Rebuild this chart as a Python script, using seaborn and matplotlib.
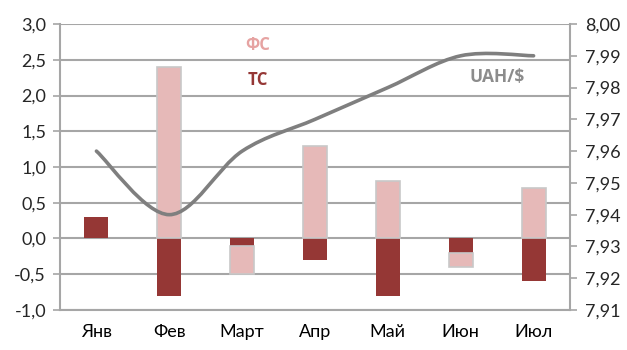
import matplotlib
matplotlib.use('Agg')
import matplotlib.pyplot as plt
from matplotlib.path import Path
from matplotlib.patches import PathPatch
from matplotlib.ticker import FuncFormatter, MultipleLocator
import numpy as np
import pandas as pd
import seaborn as sns

months = ['Янв', 'Фев', 'Март', 'Апр', 'Май', 'Июн', 'Июл']
ts = [0.3, -0.8, -0.1, -0.3, -0.8, -0.2, -0.6]
fs = [0.0, 2.4, -0.4, 1.3, 0.8, -0.2, 0.7]
uah = [7.96, 7.94, 7.96, 7.97, 7.98, 7.99, 7.99]

sns.set_style('white')
plt.rcParams['font.family'] = ['Lato', 'DejaVu Sans']

GRID = '#a6a6a6'
TS_COL = '#953735'
FS_COL = '#e6b9b8'

# excel stacks positives and negatives separately
fs_bottom = [t if (t < 0) == (f < 0) and f != 0 else 0 for t, f in zip(ts, fs)]
df = pd.DataFrame({'month': months, 'ts': ts, 'fs': fs, 'bottom': fs_bottom})

fig = plt.figure(figsize=(6.27, 3.5), dpi=100)
ax = fig.add_axes([0.0957, 0.1143, 0.8134, 0.8171])

sns.barplot(data=df, x='month', y='ts', color=TS_COL, width=0.33,
            saturation=1, edgecolor='none', ax=ax, zorder=3)
n_ts = len(ax.patches)
sns.barplot(data=df, x='month', y='fs', color=FS_COL, width=0.33,
            saturation=1, edgecolor='#c8c8c8', linewidth=1.2,
            bottom=df['bottom'], ax=ax, zorder=3)
# drop empty bars (no edge line at zero height)
for p in list(ax.patches[n_ts:]):
    if p.get_height() == 0:
        p.remove()

ax.set_xlim(-0.5, 6.5)
ax.set_ylim(-1.0, 3.0)
ax.yaxis.set_major_locator(MultipleLocator(0.5))
ax.yaxis.set_major_formatter(FuncFormatter(lambda v, p: f'{v:.1f}'.replace('.', ',')))
ax.grid(axis='y', color=GRID, linewidth=1.5, zorder=0)
ax.set_axisbelow(True)
ax.set_xlabel('')
ax.set_ylabel('')
ax.set_xticks(np.arange(-0.5, 7, 1), minor=True)
ax.tick_params(axis='x', which='major', length=0, pad=10, labelsize=13, colors='#000000')
ax.tick_params(axis='x', which='minor', length=5, width=1.2, color=GRID, direction='out')
ax.tick_params(axis='y', length=5, width=1.2, color=GRID, labelsize=13, pad=5, direction='out', left=True)
for s in ['top', 'right']:
    ax.spines[s].set_visible(False)
for s in ['left', 'bottom']:
    ax.spines[s].set_color(GRID)
    ax.spines[s].set_linewidth(1.5)

# right axis, smoothed line like excel
ax2 = ax.twinx()
ax2.set_ylim(7.91, 8.00)
ax2.yaxis.set_major_locator(MultipleLocator(0.01))
ax2.yaxis.set_major_formatter(FuncFormatter(lambda v, p: f'{v:.2f}'.replace('.', ',')))
ax2.tick_params(axis='y', length=5, width=1.2, color=GRID, labelsize=13, pad=6, direction='out')
for s in ['top', 'left', 'bottom']:
    ax2.spines[s].set_visible(False)
ax2.spines['right'].set_color(GRID)
ax2.spines['right'].set_linewidth(1.5)

pts = np.column_stack([np.arange(len(uah)), uah])
verts = [pts[0]]
codes = [Path.MOVETO]
n = len(pts)
for i in range(n - 1):
    p0 = pts[i - 1] if i > 0 else pts[i]
    p1 = pts[i]
    p2 = pts[i + 1]
    p3 = pts[i + 2] if i + 2 < n else pts[i + 1]
    verts += [p1 + (p2 - p0) / 6, p2 - (p3 - p1) / 6, p2]
    codes += [Path.CURVE4] * 3
ax2.add_patch(PathPatch(Path(verts, codes), facecolor='none', edgecolor='#7f7f7f',
                        linewidth=2.6, capstyle='round', zorder=4))

lbl = dict(fontweight='bold', ha='center', va='center', family=['Open Sans', 'DejaVu Sans'])
fig.text(258 / 627, 1 - 45 / 350, 'ФС', color='#e6a3a2', fontsize=12, **lbl)
fig.text(258 / 627, 1 - 80 / 350, 'ТС', color=TS_COL, fontsize=12, **lbl)
fig.text(497 / 627, 1 - 77 / 350, 'UAH/$', color='#8c8c8c', fontsize=12.5, **lbl)

fig.savefig('out.png', dpi=100)
